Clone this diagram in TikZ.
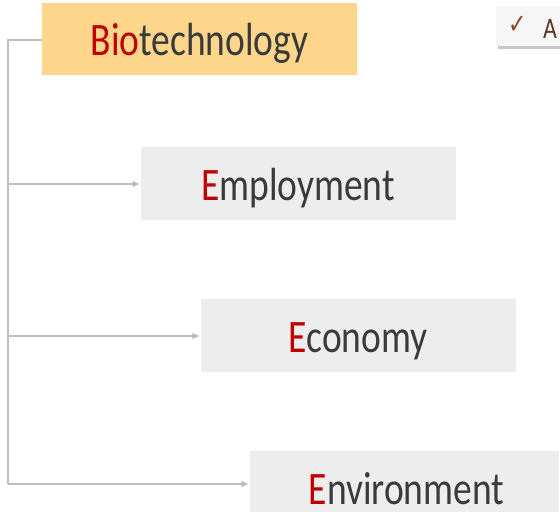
\documentclass[tikz,border=0pt]{standalone}
\usepackage{fontspec}
\setmainfont{Carlito}
\newfontfamily\symfont{DejaVu Sans}
\usetikzlibrary{arrows.meta}
\definecolor{boxgray}{HTML}{EDEDED}
\definecolor{boxorange}{HTML}{FDD68C}
\definecolor{txtred}{HTML}{C00000}
\definecolor{txtgray}{HTML}{3A3A3A}
\definecolor{linegray}{HTML}{BFBFBF}
\definecolor{chkbrown}{HTML}{8B4A2B}
\newcommand{\tall}[1]{\scalebox{1}[1.24]{#1}}
\tikzset{
  itembox/.style={fill=boxgray, draw=none, minimum width=315pt, minimum height=73pt, inner sep=0pt, text height=33pt, text depth=0pt, font=\fontsize{37.5}{40}\selectfont, text=txtgray},
  conn/.style={draw=linegray, line width=1.2pt, -{Triangle[length=7pt,width=6pt,fill=linegray!80!gray]}},
}
\begin{document}
\begin{tikzpicture}[x=1pt,y=-1pt]
\useasboundingbox (0,0) rectangle (560,514);
% top-right partial box
\fill[gray!45] (498,9) rectangle (560,49);
\node[fill=gray!7, draw=none, anchor=north west, minimum width=64pt, minimum height=40pt, inner sep=0pt] (tr) at (496,6) {};
\node[anchor=west, inner sep=0pt, text=chkbrown, font=\symfont\fontsize{22}{24}\selectfont] (chk) at (508,25) {\tall{✓}};
\node[anchor=base west, inner sep=0pt, text=chkbrown!70!black, font=\fontsize{24}{26}\selectfont] (atext) at (543,38) {\tall{A}};
% main box
\node[itembox, fill=boxorange, minimum height=72pt] (bio) at (199.5,39) {\tall{\textcolor{txtred}{Bio}technology}};
\node[itembox] (emp) at (298,183.5) {\tall{\textcolor{txtred}{E}mployment}};
\node[itembox] (eco) at (358,335.5) {\tall{\textcolor{txtred}{E}conomy}};
\node[itembox, minimum width=309pt, minimum height=61pt, text height=45pt] (env) at (404,481.5) {\hspace*{5pt}\tall{\textcolor{txtred}{E}nvironment}};
% connectors
\coordinate (top) at (8,40);
\coordinate (bot) at (8,484);
\draw[draw=linegray, line width=1.2pt] (bio.west |- top) -- (top) -- (bot);
\coordinate (e1) at (8,184);
\coordinate (e2) at (8,336);
\draw[conn] (e1) -- ([xshift=-1pt]emp.west |- e1);
\draw[conn] (e2) -- ([xshift=-1pt]eco.west |- e2);
\draw[conn] (bot) -- ([xshift=-1pt]env.west |- bot);
\end{tikzpicture}
\end{document}
